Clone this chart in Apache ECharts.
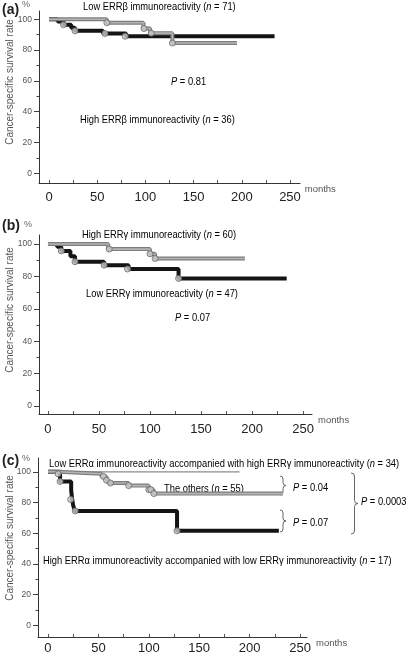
<!DOCTYPE html>
<html>
<head>
<meta charset="utf-8">
<script src="https://cdn.jsdelivr.net/npm/echarts@6/dist/echarts.min.js"></script>
<style>html,body{margin:0;padding:0;background:#fff}#c{width:408px;height:655px}</style>
</head>
<body>
<div id="c"></div>
<script>
// ---------- DATA ----------
// Panel (a)
const aLowTime = [0, 60, 98, 105, 128, 195];
const aLowSurv = [100, 97.8, 94, 91, 84.6, 84.6];
const aLowCensT = [60, 98.5, 106, 128];
const aLowCensS = [97.8, 94, 91, 84.6];
const aHighTime = [0, 9, 15, 23, 27, 56, 80, 234];
const aHighSurv = [100, 98.5, 96.5, 94.5, 92.5, 90.8, 89, 89];
const aHighCensT = [15, 27, 58, 79];
const aHighCensS = [96.5, 92.5, 90.8, 89];
// Panel (b)
const bHighTime = [0, 59, 100, 105, 193];
const bHighSurv = [100, 96.9, 94, 91.1, 91.1];
const bHighCensT = [60, 100, 105];
const bHighCensS = [96.9, 94, 91.1];
const bLowTime = [0, 9, 13, 22, 26.5, 55, 79, 128, 234];
const bLowSurv = [100, 98.3, 95.8, 92.5, 89.1, 87, 84.6, 78.8, 78.8];
const bLowCensT = [13, 26.5, 55, 78, 128];
const bLowCensS = [95.8, 89.1, 87, 84.6, 78.8];
// Panel (c)
const cTopTime = [0, 190];
const cTopSurv = [100, 100];
const cOthTime = [0, 10, 53, 58, 60, 80, 100, 104.6, 233];
const cOthSurv = [100, 98.7, 97, 94.5, 92.7, 91, 88.4, 85.8, 85.8];
const cOthCensT = [10, 55, 58, 62, 80, 100, 102, 105];
const cOthCensS = [98.7, 97, 94.5, 92.7, 91, 88.4, 88.4, 85.8];
const cLowTime = [0, 12, 23, 24, 25, 26.8, 128, 229];
const cLowSurv = [100, 93.7, 88, 82, 78, 74.5, 61.5, 61.5];
const cLowCensT = [12, 22.5, 27, 128];
const cLowCensS = [93.7, 82, 74.5, 61.5];

const xTickVals = [0, 50, 100, 150, 200, 250];
const xMinorVals = [0, 25, 50, 75, 100, 125, 150, 175, 200, 225, 250];
const yTickVals = [0, 20, 40, 60, 80, 100];
const yMinorVals = [10, 30, 50, 70, 90];

// ---------- HELPERS ----------
const pairs = (t, s) => t.map((x, i) => [x, s[i]]);
const REG = '"Liberation Sans",Arial,sans-serif';

const grids = [
  {left: 39, top: 11, width: 261, height: 172, xmin: -10.4, xmax: 260.4, ymin: -6.3, ymax: 105.4, lblMargin: 8, nameGap: 4},
  {left: 39, top: 235, width: 273, height: 179, xmin: -8.8, xmax: 258.8, ymin: -4.9, ymax: 105.6, lblMargin: 9, nameGap: 6},
  {left: 38, top: 458, width: 269, height: 181, xmin: -9.9, xmax: 256.9, ymin: -7.7, ymax: 109, lblMargin: 5, nameGap: 9}
];

const option = {
  animation: false,
  backgroundColor: '#fff',
  grid: grids.map(g => ({left: g.left, top: g.top, width: g.width, height: g.height})),
  xAxis: grids.map((g, i) => ({
    type: 'value', gridIndex: i, min: g.xmin, max: g.xmax,
    name: 'months', nameLocation: 'end', nameGap: g.nameGap,
    nameTextStyle: {fontFamily: REG, fontSize: 9.5, color: '#555', align: 'left', verticalAlign: 'top', padding: [1, 0, 0, 0]},
    axisLine: {show: true, onZero: false, lineStyle: {color: '#333', width: 1}},
    axisTick: {show: true, inside: true, length: 3, customValues: xMinorVals, lineStyle: {color: '#555'}},
    axisLabel: {customValues: xTickVals, margin: g.lblMargin, fontFamily: REG, fontSize: 13, color: '#222'},
    splitLine: {show: false}
  })),
  yAxis: [].concat(...grids.map((g, i) => ([
    {
      type: 'value', gridIndex: i, min: g.ymin, max: g.ymax,
      axisLine: {show: true, onZero: false, lineStyle: {color: '#333', width: 1}},
      axisTick: {show: true, length: 5, customValues: yTickVals, lineStyle: {color: '#444'}},
      axisLabel: {customValues: yTickVals, margin: 7, fontFamily: REG, fontSize: 8.5, color: '#555'},
      splitLine: {show: false}
    },
    {
      type: 'value', gridIndex: i, min: g.ymin, max: g.ymax, position: 'left', offset: 0,
      axisLine: {show: false, onZero: false},
      axisTick: {show: true, length: 2.5, customValues: yMinorVals, lineStyle: {color: '#444'}},
      axisLabel: {show: false},
      splitLine: {show: false}
    }
  ]))),
  series: [],
  graphic: []
};

function addCurve(panel, time, surv, kind) {
  const data = pairs(time, surv);
  const base = {type: 'line', step: 'end', xAxisIndex: panel, yAxisIndex: panel * 2, showSymbol: false, symbol: 'none', silent: true, data: data};
  if (kind === 'black') {
    option.series.push(Object.assign({}, base, {lineStyle: {color: '#141414', width: 4}, z: 3}));
  } else if (kind === 'gray') {
    option.series.push(Object.assign({}, base, {lineStyle: {color: '#7d7d7d', width: 4}, z: 4}));
    option.series.push(Object.assign({}, base, {lineStyle: {color: '#b4b4b4', width: 1.6}, z: 5}));
  } else {
    option.series.push(Object.assign({}, base, {lineStyle: {color: '#8c8c8c', width: 1.3}, z: 2}));
  }
}
function addCens(panel, t, s) {
  option.series.push({
    type: 'scatter', xAxisIndex: panel, yAxisIndex: panel * 2, silent: true, z: 6,
    symbol: 'circle', symbolSize: 6,
    itemStyle: {color: '#c8c8c8', borderColor: '#666', borderWidth: 1},
    data: pairs(t, s)
  });
}

addCurve(0, aHighTime, aHighSurv, 'black');
addCurve(0, aLowTime, aLowSurv, 'gray');
addCens(0, aHighCensT, aHighCensS);
addCens(0, aLowCensT, aLowCensS);

addCurve(1, bLowTime, bLowSurv, 'black');
addCurve(1, bHighTime, bHighSurv, 'gray');
addCens(1, bLowCensT, bLowCensS);
addCens(1, bHighCensT, bHighCensS);

addCurve(2, cTopTime, cTopSurv, 'thin');
addCurve(2, cLowTime, cLowSurv, 'black');
addCurve(2, cOthTime, cOthSurv, 'gray');
addCens(2, cLowCensT, cLowCensS);
addCens(2, cOthCensT, cOthCensS);

// ---------- ANNOTATIONS ----------
const rich = {
  a: {fontFamily: REG, fontSize: 11, color: '#444'},
  i: {fontFamily: REG, fontSize: 11, color: '#444', fontStyle: 'italic'}
};
const SX = 0.85;
function txt(x, y, parts) {
  const text = parts.map(p => '{' + (p[1] ? 'i' : 'a') + '|' + p[0] + '}').join('');
  option.graphic.push({type: 'text', x: x, y: y, scaleX: SX, silent: true, style: {text: text, rich: rich, verticalAlign: 'middle'}});
}
function plain(x, y, text, font, fill, extra) {
  option.graphic.push(Object.assign({type: 'text', x: x, y: y, silent: true,
    style: {text: text, font: font, fill: fill, verticalAlign: 'middle', align: 'left'}}, extra || {}));
}
function curve(x1, y1, cx, cy, x2, y2) {
  option.graphic.push({type: 'bezierCurve', silent: true,
    shape: {x1: x1, y1: y1, cpx1: cx, cpy1: cy, x2: x2, y2: y2},
    style: {stroke: '#666', fill: null, lineWidth: 1}});
}
function seg(x1, y1, x2, y2) {
  option.graphic.push({type: 'line', silent: true, shape: {x1: x1, y1: y1, x2: x2, y2: y2},
    style: {stroke: '#666', lineWidth: 1}});
}
function brace(x0, w, y0, y1) {
  const xm = x0 + w / 2, ym = (y0 + y1) / 2, r = 3;
  curve(x0, y0, xm, y0, xm, y0 + r);
  seg(xm, y0 + r, xm, ym - r);
  curve(xm, ym - r, xm, ym, x0 + w, ym);
  curve(x0 + w, ym, xm, ym, xm, ym + r);
  seg(xm, ym + r, xm, y1 - r);
  curve(xm, y1 - r, xm, y1, x0, y1);
}

// panel labels, % and y names
[['(a)', 10, 5, 82], ['(b)', 226, 225, 310], ['(c)', 461, 459, 538]].forEach((p, k) => {
  plain(2, p[1], p[0], 'bold 14px ' + REG, '#222');
  plain(k === 1 ? 24 : 22, p[2], '%', '9px ' + REG, '#666');
  option.graphic.push({type: 'text', x: 10, y: p[3], rotation: Math.PI / 2, silent: true,
    style: {text: 'Cancer-specific survival rate', font: '10px ' + REG, fill: '#555', align: 'center', verticalAlign: 'middle'}});
});

txt(83, 7, [['Low ERRβ immunoreactivity ('], ['n', 1], [' = 71)']]);
txt(171, 82, [['P', 1], [' = 0.81']]);
txt(80, 120, [['High ERRβ immunoreactivity ('], ['n', 1], [' = 36)']]);

txt(82, 235, [['High ERRγ immunoreactivity ('], ['n', 1], [' = 60)']]);
txt(86, 294, [['Low ERRγ immunoreactivity ('], ['n', 1], [' = 47)']]);
txt(175, 318, [['P', 1], [' = 0.07']]);

txt(49, 464, [['Low ERRα immunoreactivity accompanied with high ERRγ immunoreactivity ('], ['n', 1], [' = 34)']]);
txt(164, 489, [['The others ('], ['n', 1], [' = 55)']]);
txt(43, 561, [['High ERRα immunoreactivity accompanied with low ERRγ immunoreactivity ('], ['n', 1], [' = 17)']]);
txt(293, 488, [['P', 1], [' = 0.04']]);
txt(293, 523, [['P', 1], [' = 0.07']]);
txt(361, 502, [['P', 1], [' = 0.0003']]);
brace(280, 6, 476, 495);
brace(280, 6, 510, 532);
brace(351, 7, 473, 534);

const chart = echarts.init(document.getElementById('c'), null, {renderer: 'canvas'});
chart.setOption(option);
</script>
</body>
</html>
